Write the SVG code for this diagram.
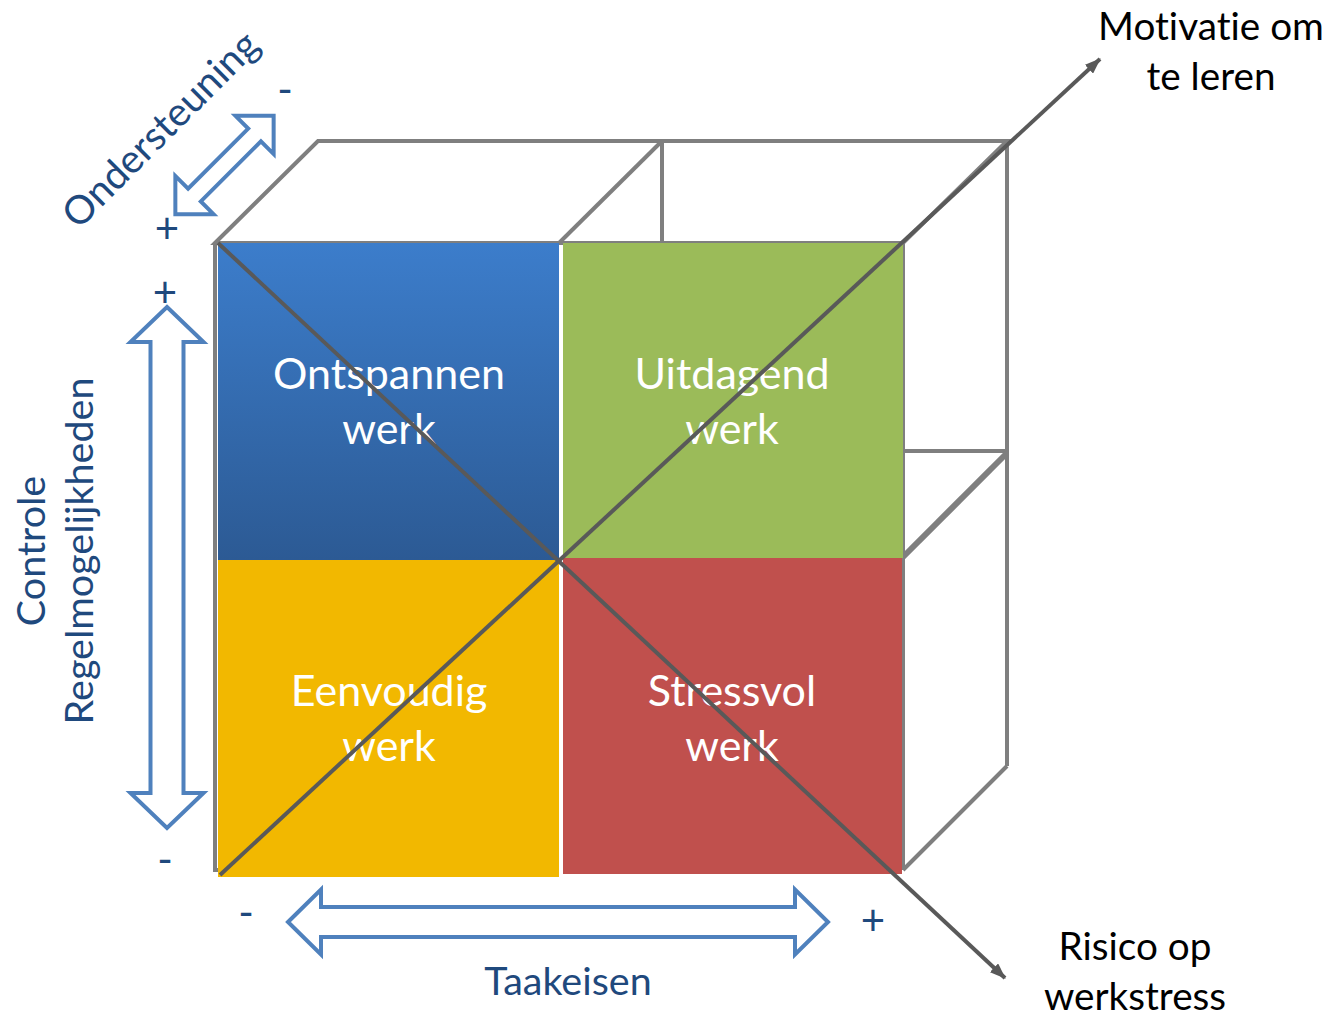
<svg xmlns="http://www.w3.org/2000/svg" width="1334" height="1018" viewBox="0 0 1334 1018">
<defs>
<linearGradient id="gBlue" x1="0" y1="0" x2="0" y2="1">
<stop offset="0" stop-color="#3c7dcb"/>
<stop offset="1" stop-color="#2c5a94"/>
</linearGradient>
<marker id="ah" markerUnits="userSpaceOnUse" markerWidth="16" markerHeight="12" refX="15" refY="6" orient="auto">
<path d="M0,0 L16,6 L0,12 z" fill="#595959"/>
</marker>
<style>
text{font-variant-ligatures:none}
.frame{fill:none;stroke:#7f7f7f;stroke-width:4;stroke-linejoin:miter}
.diag{stroke:#595959;stroke-width:4;fill:none}
.barrow{fill:#fff;stroke:#4f81bd;stroke-width:4;stroke-linejoin:miter}
.qt{font-family:Lato,"Liberation Sans",sans-serif;font-size:43px;fill:#fff;text-anchor:middle}
.lbl{font-family:Lato,"Liberation Sans",sans-serif;font-size:39.5px;fill:#1f497d;text-anchor:middle}
.blk{font-family:Lato,"Liberation Sans",sans-serif;font-size:38.7px;fill:#000;text-anchor:middle}
.pm{font-family:Lato,"Liberation Sans",sans-serif;font-size:42px;fill:#1f497d;text-anchor:middle}
</style>
</defs>
<rect width="1334" height="1018" fill="#fff"/>
<g id="cube-frame">
<polygon class="frame" points="215,243 318,141 1007,141 903,243"/>
<line class="frame" x1="559" y1="243" x2="662" y2="141"/>
<line class="frame" x1="662" y1="141" x2="662" y2="243"/>
<line class="frame" x1="1007" y1="141" x2="1007" y2="766"/>
<line class="frame" x1="903" y1="451" x2="1007" y2="451"/>
<line class="frame" x1="903" y1="557" x2="1007" y2="453" style="stroke-width:6"/>
<line class="frame" x1="903" y1="870" x2="1007" y2="766"/>
<polyline class="frame" points="220,870 215,870 215,243"/>
<line class="frame" x1="903" y1="243" x2="903" y2="870"/>
</g>
<g id="q-ontspannen">
<rect x="218" y="243" width="341" height="317" fill="url(#gBlue)"/>
<text class="qt" x="389" y="389">Ontspannen</text>
<text class="qt" x="389" y="444">werk</text>
</g>
<g id="q-uitdagend">
<rect x="563" y="243" width="340" height="315" fill="#9bbb59"/>
<text class="qt" x="732" y="389">Uitdagend</text>
<text class="qt" x="732" y="444">werk</text>
</g>
<g id="q-eenvoudig">
<rect x="218" y="560" width="341" height="317" fill="#f2b800"/>
<text class="qt" x="389" y="706">Eenvoudig</text>
<text class="qt" x="389" y="761">werk</text>
</g>
<g id="q-stressvol">
<rect x="563" y="558" width="339" height="316" fill="#c0504d"/>
<text class="qt" x="732" y="706">Stressvol</text>
<text class="qt" x="732" y="761">werk</text>
</g>
<g id="connectors">
<line class="diag" x1="218" y1="243" x2="1005" y2="978" marker-end="url(#ah)"/>
<line class="diag" x1="220" y1="875" x2="1100" y2="59" marker-end="url(#ah)"/>
</g>
<g id="axis-ondersteuning">
<path class="barrow" transform="translate(224.5,165) rotate(-45)" d="M-69.5,0 L-42.5,-27 L-42.5,-9 L42.5,-9 L42.5,-27 L69.5,0 L42.5,27 L42.5,9 L-42.5,9 L-42.5,27 Z"/>
<text class="lbl" transform="translate(170,139) rotate(-45)" x="0" y="0">Ondersteuning</text>
<text class="pm" x="285" y="104">-</text>
<text class="pm" x="167" y="243">+</text>
</g>
<g id="axis-controle">
<path class="barrow" transform="translate(167,567.5) rotate(90)" d="M-260.5,0 L-225.5,-36.5 L-225.5,-16.5 L225.5,-16.5 L225.5,-36.5 L260.5,0 L225.5,36.5 L225.5,16.5 L-225.5,16.5 L-225.5,36.5 Z"/>
<text class="lbl" transform="translate(45,551) rotate(-90)" x="0" y="0">Controle</text>
<text class="lbl" transform="translate(93,551) rotate(-90)" x="0" y="0">Regelmogelijkheden</text>
<text class="pm" x="165" y="307">+</text>
<text class="pm" x="165" y="874">-</text>
</g>
<g id="axis-taakeisen">
<path class="barrow" transform="translate(558,922)" d="M-270,0 L-237,-32.5 L-237,-15 L237,-15 L237,-32.5 L270,0 L237,32.5 L237,15 L-237,15 L-237,32.5 Z"/>
<text class="lbl" x="568" y="995">Taakeisen</text>
<text class="pm" x="246" y="927">-</text>
<text class="pm" x="873" y="935">+</text>
</g>
<g id="label-motivatie">
<text class="blk" x="1211" y="40">Motivatie om</text>
<text class="blk" x="1211" y="90">te leren</text>
</g>
<g id="label-risico">
<text class="blk" x="1135" y="960">Risico op</text>
<text class="blk" x="1135" y="1010">werkstress</text>
</g>
</svg>
